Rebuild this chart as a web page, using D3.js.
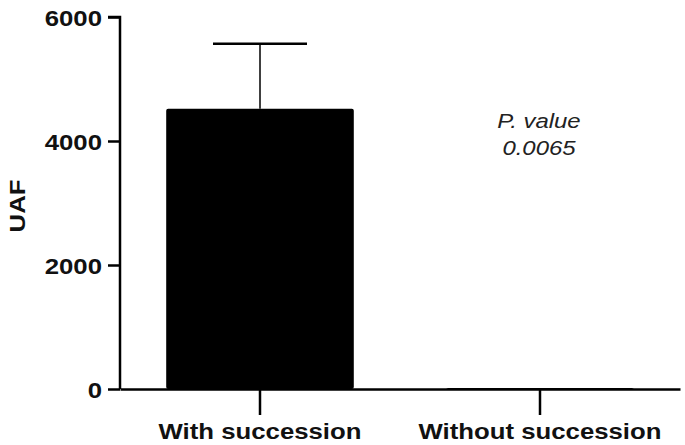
<!DOCTYPE html>
<html>
<head>
<meta charset="utf-8">
<script src="https://cdn.jsdelivr.net/npm/d3@7"></script>
<style>
  body { margin: 0; background: #fff; }
  text { font-family: "Liberation Sans", Arial, sans-serif; }
</style>
</head>
<body>
<div id="chart"></div>
<script>
// data
categories = ["With succession", "Without succession"]
meanValues = [4520, 15]
sdValues = [1050, 0]
yTicks = [0, 2000, 4000, 6000]
yLabel = "UAF"
pValueLines = ["P. value", "0.0065"]

width = 685
height = 445
stretch = 1.12   // text in the picture is a bit wider than plain Arial

const svg = d3.select("#chart").append("svg")
    .attr("width", width)
    .attr("height", height)

const xScale = d3.scaleBand()
    .domain(categories)
    .range([120, 680])
    .paddingInner(0.33)
    .paddingOuter(0.165)

const yScale = d3.scaleLinear()
    .domain([0, 6000])
    .range([389, 17])

// bars
svg.append("g").selectAll("rect")
    .data(categories)
    .join("rect")
    .attr("x", d => xScale(d))
    .attr("y", (d, i) => yScale(meanValues[i]))
    .attr("width", xScale.bandwidth())
    .attr("height", (d, i) => yScale(0) - yScale(meanValues[i]))
    .attr("rx", 2)
    .attr("fill", "#000")

// error bars (upper only)
const errs = svg.append("g")
categories.forEach((c, i) => {
    if (sdValues[i] <= 0) return
    const cx = xScale(c) + xScale.bandwidth() / 2
    const top = yScale(meanValues[i] + sdValues[i])
    errs.append("line")
        .attr("x1", cx).attr("x2", cx)
        .attr("y1", yScale(meanValues[i])).attr("y2", top)
        .attr("stroke", "#000").attr("stroke-width", 1.5)
    errs.append("line")
        .attr("x1", cx - 47).attr("x2", cx + 47)
        .attr("y1", top).attr("y2", top)
        .attr("stroke", "#000").attr("stroke-width", 2.5)
})

// y axis
const yAxis = svg.append("g")
    .attr("transform", "translate(120,0)")
    .call(d3.axisLeft(yScale).tickValues(yTicks).tickSize(12).tickFormat(d3.format("d")))
yAxis.select(".domain").attr("stroke-width", 2.5).attr("d", "M-12," + yScale(6000) + "H0V" + yScale(0))
yAxis.selectAll(".tick line").attr("stroke-width", 2.5)
yAxis.selectAll(".tick text")
    .attr("font-size", 23)
    .attr("font-weight", "bold")
    .attr("dy", "0.36em")
    .attr("fill", "#111")
    .attr("font-family", "Liberation Sans, Arial, sans-serif")
    .attr("x", -18 / stretch)
    .attr("transform", "scale(" + stretch + ",1)")

// x axis
const xAxis = svg.append("g")
    .attr("transform", "translate(0," + yScale(0) + ")")
    .call(d3.axisBottom(xScale).tickSize(26).tickSizeOuter(0))
xAxis.select(".domain").attr("stroke-width", 2.5)
xAxis.selectAll(".tick line").attr("stroke-width", 2.5)
xAxis.selectAll(".tick text")
    .attr("font-size", 23)
    .attr("font-weight", "bold")
    .attr("fill", "#111")
    .attr("font-family", "Liberation Sans, Arial, sans-serif")
    .attr("y", 34)
    .attr("transform", "scale(" + stretch + ",1)")

// y label
svg.append("text")
    .attr("transform", "translate(25,206) rotate(-90) scale(" + stretch + ",1)")
    .attr("text-anchor", "middle")
    .attr("font-size", 23)
    .attr("font-weight", "bold")
    .attr("fill", "#111")
    .text(yLabel)

// p value note
svg.append("g")
    .attr("transform", "translate(539,0) scale(1.14,1)")
    .selectAll("text")
    .data(pValueLines)
    .join("text")
    .attr("x", 0)
    .attr("y", (d, i) => 128 + i * 27)
    .attr("text-anchor", "middle")
    .attr("font-size", 21)
    .attr("font-style", "italic")
    .attr("fill", "#222")
    .text(d => d)
</script>
</body>
</html>
